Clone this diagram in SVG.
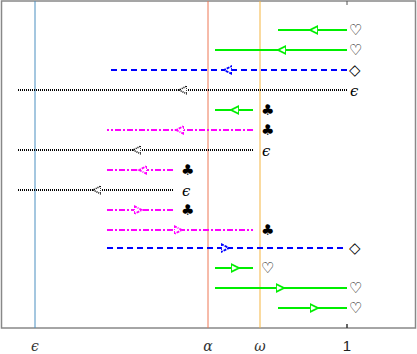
<svg xmlns="http://www.w3.org/2000/svg" width="417" height="354" viewBox="0 0 417 354">
<style>
.g{stroke:#00ee00;stroke-width:2;fill:none}
.b{stroke:#0000ff;stroke-width:2;fill:none;stroke-dasharray:6 4}
.k{stroke:#000;stroke-width:2;fill:none;stroke-dasharray:1 1}
.m{stroke:#ff00ff;stroke-width:2;fill:none;stroke-dasharray:6 2 2 2}
.s{font-family:"DejaVu Serif",serif;font-size:15px;fill:#000}
.ax{font-family:"DejaVu Serif",serif;font-style:italic;font-size:14px;fill:#333;text-anchor:middle}
</style>
<defs>
<marker id="ag" markerUnits="userSpaceOnUse" markerWidth="12" markerHeight="12" refX="4" refY="5" orient="auto" viewBox="0 0 12 10"><path d="M0,1 L8,5 L0,9 Z" fill="#fff" stroke="#00ee00" stroke-width="1.8"/></marker>
<marker id="ab" markerUnits="userSpaceOnUse" markerWidth="12" markerHeight="12" refX="4" refY="5" orient="auto" viewBox="0 0 12 10"><path d="M0,1 L8,5 L0,9 Z" fill="#fff" stroke="#0000ff" stroke-width="1.8" stroke-dasharray="3 1"/></marker>
<marker id="ak" markerUnits="userSpaceOnUse" markerWidth="12" markerHeight="12" refX="4" refY="5" orient="auto" viewBox="0 0 12 10"><path d="M0,1 L8,5 L0,9 Z" fill="#fff" stroke="#000" stroke-width="1.5" stroke-dasharray="1 1"/></marker>
<marker id="am" markerUnits="userSpaceOnUse" markerWidth="12" markerHeight="12" refX="4" refY="5" orient="auto" viewBox="0 0 12 10"><path d="M0,1 L8,5 L0,9 Z" fill="#fff" stroke="#ff00ff" stroke-width="1.8" stroke-dasharray="3 1 1 1"/></marker>
</defs>
<rect x="0" y="0" width="417" height="354" fill="#fff"/>
<g id="frame">
<rect x="1.5" y="1" width="414" height="327" fill="none" stroke="#888" stroke-width="1.5"/>
<line x1="347" y1="1" x2="347" y2="5" stroke="#555" stroke-width="1"/>
<line x1="347" y1="324" x2="347" y2="328" stroke="#333" stroke-width="1.5"/>
</g>
<g id="vlines">
<line x1="35" y1="1" x2="35" y2="328" stroke="#4a8fc0" stroke-width="1"/>
<line x1="208" y1="1" x2="208" y2="328" stroke="#ee7755" stroke-width="1"/>
<line x1="260" y1="1" x2="260" y2="328" stroke="#f5b540" stroke-width="1"/>
</g>
<g id="connectors">
<path class="g" d="M347,30 L314,30 L278,30" marker-mid="url(#ag)"/>
<path class="g" d="M347,50 L282,50 L215,50" marker-mid="url(#ag)"/>
<path class="b" d="M347,70 L228,70 L107,70" marker-mid="url(#ab)"/>
<path class="k" d="M347,90 L183,90 L18,90" marker-mid="url(#ak)"/>
<path class="g" d="M253,110 L235,110 L215,110" marker-mid="url(#ag)"/>
<path class="m" d="M253,130 L180,130 L107,130" marker-mid="url(#am)"/>
<path class="k" d="M253,150 L137,150 L18,150" marker-mid="url(#ak)"/>
<path class="m" d="M173,170 L143,170 L107,170" marker-mid="url(#am)"/>
<path class="k" d="M173,190 L97,190 L18,190" marker-mid="url(#ak)"/>
<path class="m" d="M107,210 L138,210 L173,210" marker-mid="url(#am)"/>
<path class="m" d="M107,230 L178,230 L253,230" marker-mid="url(#am)"/>
<path class="b" d="M107,248 L225,248 L347,248" marker-mid="url(#ab)"/>
<path class="g" d="M215,268 L235,268 L253,268" marker-mid="url(#ag)"/>
<path class="g" d="M215,288 L280,288 L347,288" marker-mid="url(#ag)"/>
<path class="g" d="M278,308 L314,308 L347,308" marker-mid="url(#ag)"/>
</g>
<g id="labels">
<text class="s" x="349" y="35">♡</text>
<text class="s" x="349" y="55">♡</text>
<text class="s" x="349" y="75">◇</text>
<text class="s" x="350" y="96" font-style="italic">ϵ</text>
<text class="s" x="261" y="115">♣</text>
<text class="s" x="261" y="135">♣</text>
<text class="s" x="262" y="156" font-style="italic">ϵ</text>
<text class="s" x="181" y="175">♣</text>
<text class="s" x="182" y="196" font-style="italic">ϵ</text>
<text class="s" x="181" y="215">♣</text>
<text class="s" x="261" y="235">♣</text>
<text class="s" x="349" y="253">◇</text>
<text class="s" x="261" y="273">♡</text>
<text class="s" x="349" y="293">♡</text>
<text class="s" x="349" y="313">♡</text>
</g>
<g id="axis">
<text class="ax" x="35" y="351">ϵ</text>
<text class="ax" x="208" y="351">α</text>
<text class="ax" x="260" y="351">ω</text>
<text x="347" y="351" font-family="Liberation Sans,sans-serif" font-size="15" fill="#222" text-anchor="middle">1</text>
</g>
</svg>
